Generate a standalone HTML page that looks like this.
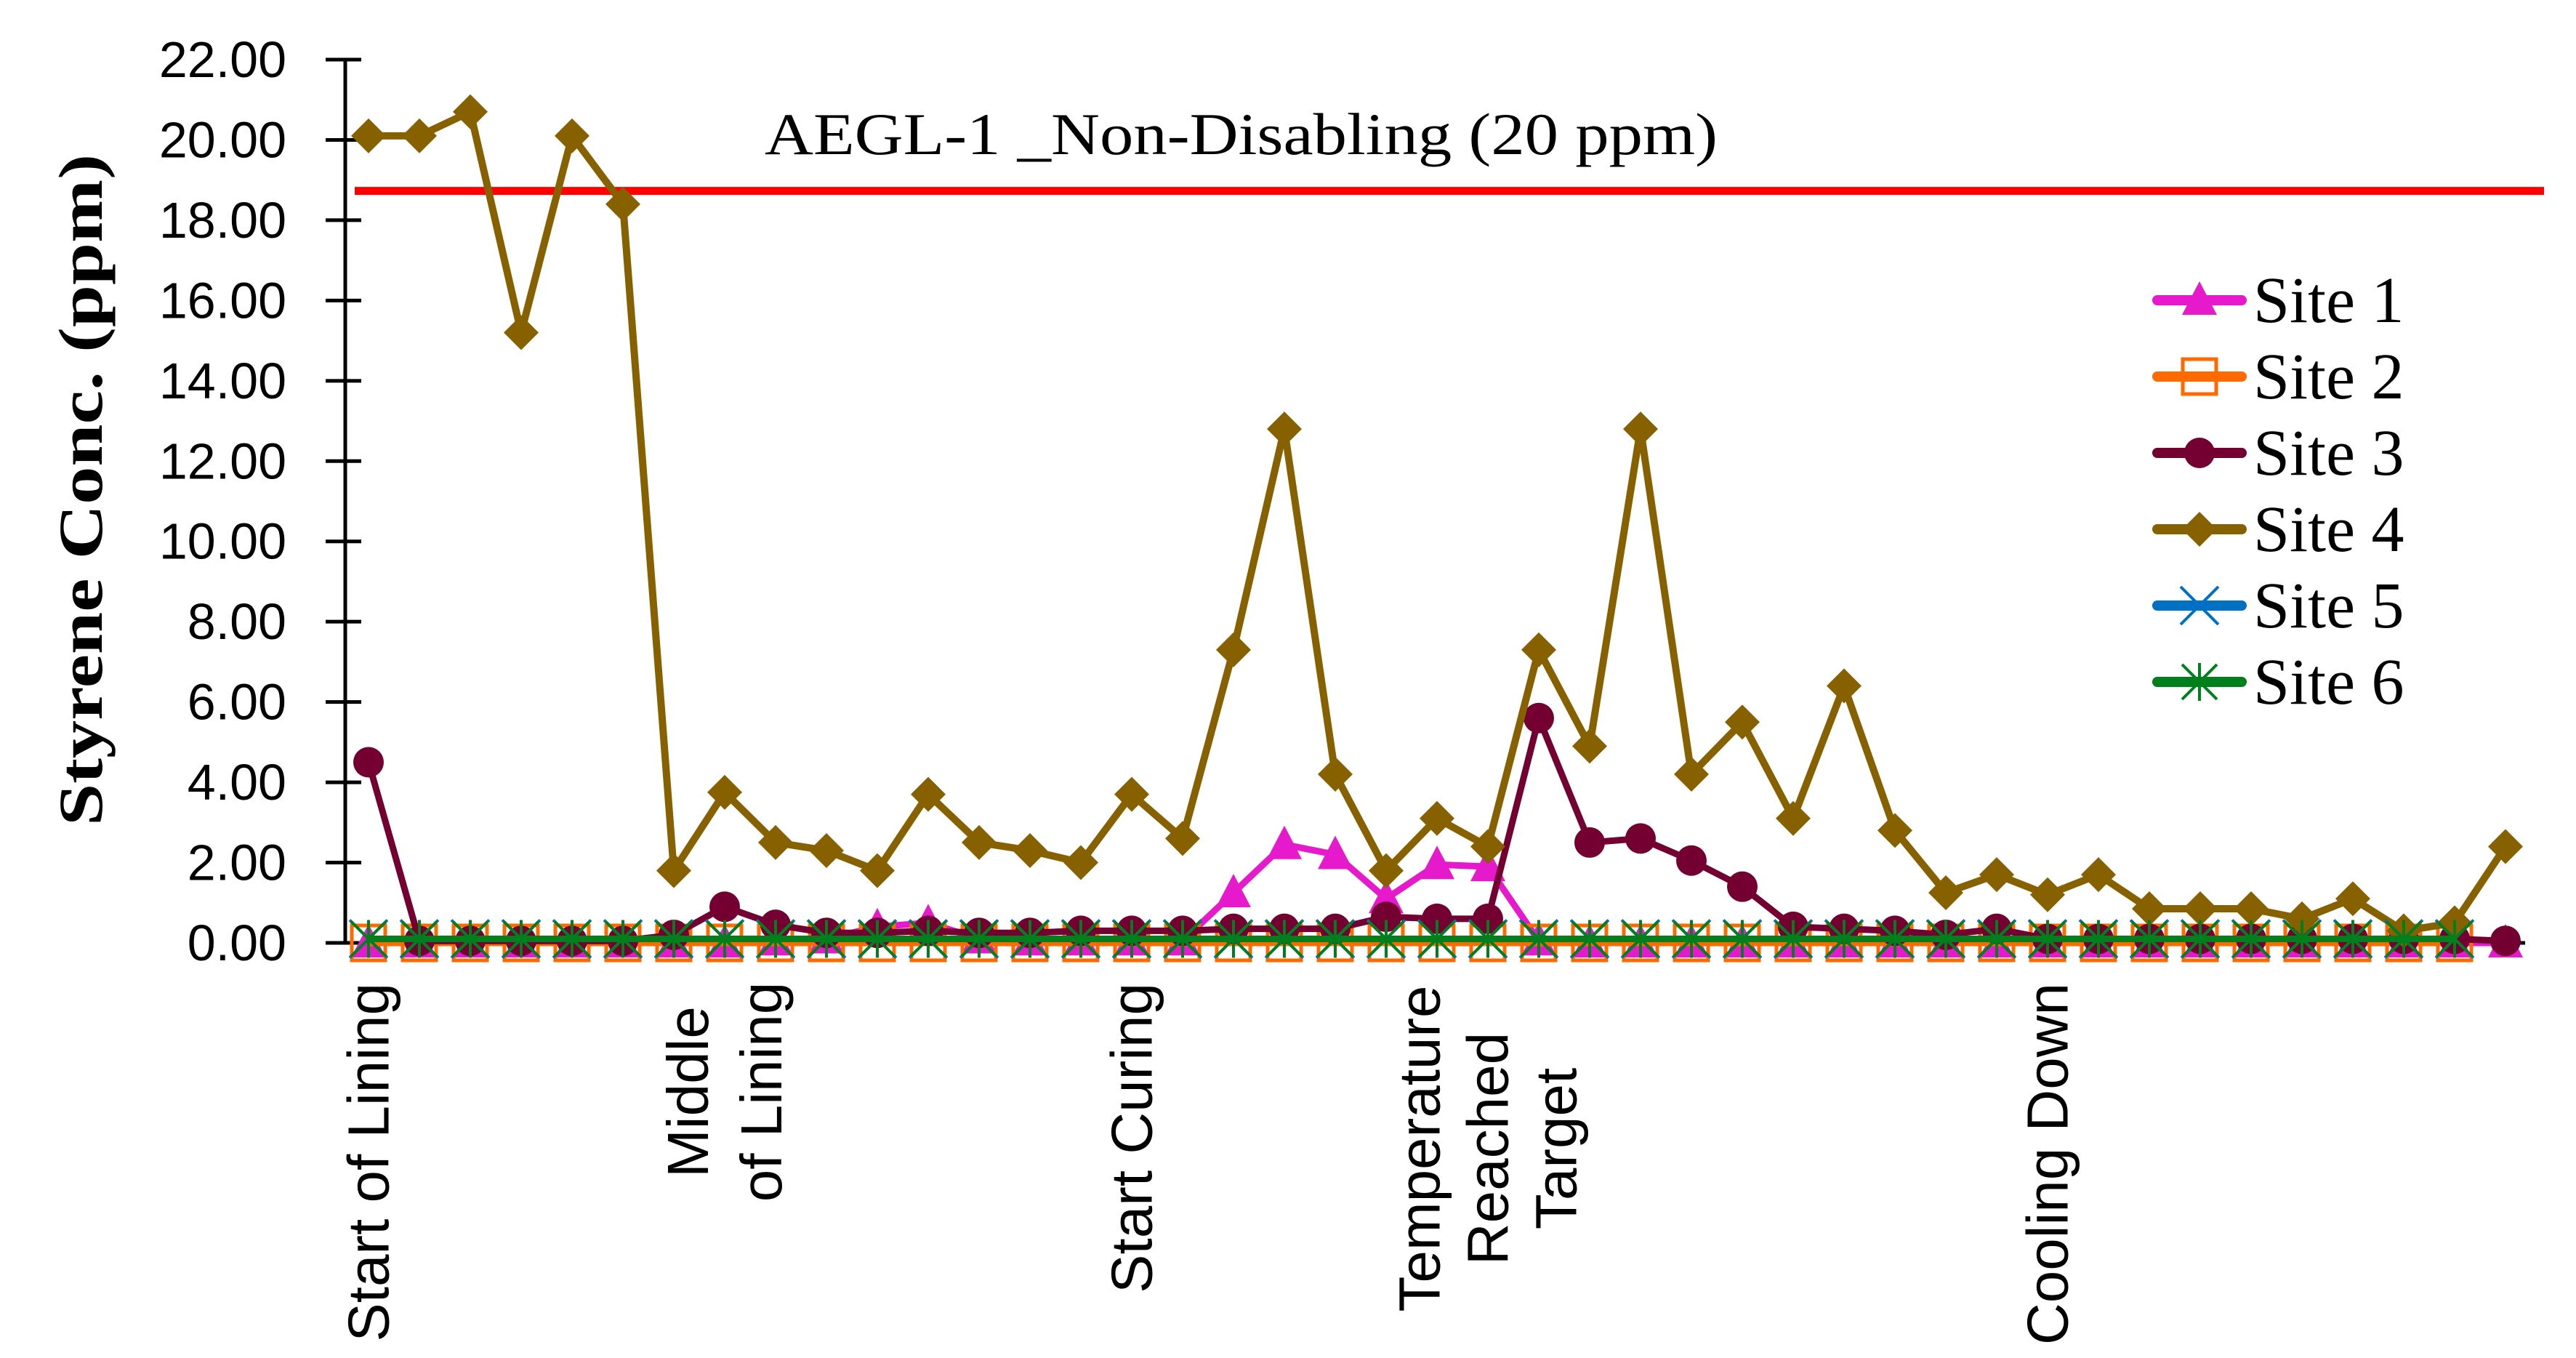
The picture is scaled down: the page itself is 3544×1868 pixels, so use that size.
<!DOCTYPE html>
<html><head><meta charset="utf-8"><style>
html,body{margin:0;padding:0;background:#fff;}
svg{display:block;}
</style></head>
<body>
<svg id="chart" width="3544" height="1868" viewBox="0 0 3544 1868" xmlns="http://www.w3.org/2000/svg">
<rect width="3544" height="1868" fill="#fff"/>
<g id="grid"></g>
<g id="series"></g>
<g id="legend"></g>
</svg>
<script>
const categories = ["Start of Lining","","","","","","","Middle|of Lining","","","","","","","","Start Curing","","","","","","","Temperature|Reached|Target","","","","","","","","","","","Cooling Down","","","","","","","","",""];
const yTicks = [0,2,4,6,8,10,12,14,16,18,20,22];
const aeglValue = [18.73];
const site1 = [0,0,0,0,0,0,0,0,0.05,0.1,0.4,0.5,0.1,0.05,0.05,0.05,0.05,1.25,2.45,2.2,1.1,1.95,1.9,0.05,0,0,0,0,0,0,0,0,0,0,0,0,0,0,0,0,0,0,0];
const site2 = [0,0,0,0,0,0,0,0,0,0,0,0,0,0,0,0,0,0,0,0,0,0,0,0,0,0,0,0,0,0,0,0,0,0,0,0,0,0,0,0,0,0];
const site3 = [4.5,0.05,0.05,0.05,0.05,0.05,0.2,0.9,0.45,0.25,0.25,0.3,0.25,0.25,0.3,0.3,0.3,0.35,0.35,0.35,0.65,0.6,0.6,5.6,2.5,2.6,2.05,1.4,0.4,0.35,0.3,0.2,0.35,0.1,0.1,0.1,0.1,0.1,0.1,0.1,0.1,0.1,0.05];
const site4 = [20.1,20.1,20.7,15.2,20.1,18.4,1.8,3.75,2.5,2.3,1.8,3.7,2.5,2.3,2.0,3.7,2.6,7.3,12.8,4.2,1.8,3.1,2.4,7.3,4.9,12.8,4.2,5.5,3.1,6.4,2.8,1.25,1.7,1.2,1.7,0.85,0.85,0.85,0.6,1.1,0.3,0.5,2.4];
const site5 = [0.1,0.1,0.1,0.1,0.1,0.1,0.1,0.1,0.1,0.1,0.1,0.1,0.1,0.1,0.1,0.1,0.1,0.1,0.1,0.1,0.1,0.1,0.1,0.1,0.1,0.1,0.1,0.1,0.1,0.1,0.1,0.1,0.1,0.1,0.1,0.1,0.1,0.1,0.1,0.1,0.1,0.1];
const site6 = [0.1,0.1,0.1,0.1,0.1,0.1,0.1,0.1,0.1,0.1,0.1,0.1,0.1,0.1,0.1,0.1,0.1,0.1,0.1,0.1,0.1,0.1,0.1,0.1,0.1,0.1,0.1,0.1,0.1,0.1,0.1,0.1,0.1,0.1,0.1,0.1,0.1,0.1,0.1,0.1,0.1,0.1];
const seriesNames = ["Site 1","Site 2","Site 3","Site 4","Site 5","Site 6"];

const NS="http://www.w3.org/2000/svg";
const X0=507, DX=70, Y0=1297, YTOP=82, YMAX=22;
const xs=i=>X0+DX*i;
const ys=v=>Y0-(v/YMAX)*(Y0-YTOP);
function mk(tag,attrs,parent){const e=document.createElementNS(NS,tag);for(const k in attrs)e.setAttribute(k,attrs[k]);parent.appendChild(e);return e;}
const G=document.getElementById('grid'), S=document.getElementById('series'), L=document.getElementById('legend');

// axis
let ax=mk('line',{x1:475,y1:YTOP,x2:475,y2:Y0,stroke:'#000','stroke-width':5},G);


let xax=mk('line',{x1:475,y1:Y0,x2:3474,y2:Y0,stroke:'#000','stroke-width':5},G);


yTicks.forEach(t=>{
  const tk=mk('line',{x1:448,y1:ys(t),x2:497,y2:ys(t),stroke:'#000','stroke-width':5},G);
  
  
  const tx=mk('text',{x:394,y:ys(t),'text-anchor':'end','dominant-baseline':'central','font-family':'Liberation Sans, sans-serif','font-size':70,fill:'#000'},G);
  tx.textContent=t.toFixed(2);
  
  
});
// y title
const yt=mk('text',{x:0,y:0,transform:'translate(140,674) rotate(-90)','text-anchor':'middle','font-family':'Liberation Serif, serif','font-weight':'bold','font-size':86,textLength:924,lengthAdjust:'spacingAndGlyphs',fill:'#000'},G);
yt.textContent='Styrene Conc. (ppm)';



// x labels
categories.forEach((c,i)=>{
  if(!c)return;
  const lines=c.split('|');
  const n=lines.length;
  const gap= n===2?101:94;
  const cx=xs(i);
  lines.forEach((ln,j)=>{
    const lx=cx+(j-(n-1)/2)*gap;
    let attrs;
    if(n===1){attrs={x:0,y:0,transform:`translate(${lx},1352) rotate(-90)`,'text-anchor':'end','dominant-baseline':'central'};}
    else{const cy=n===2?1502:1580;attrs={x:0,y:0,transform:`translate(${lx},${cy}) rotate(-90)`,'text-anchor':'middle','dominant-baseline':'central'};}
    attrs['font-family']='Liberation Sans, sans-serif';attrs['font-size']=80;attrs.fill='#000';
    const t=mk('text',attrs,G);
    t.textContent=ln;
    
    
  });
});

// AEGL line & annotation
const rl=mk('line',{x1:488,y1:ys(aeglValue[0]),x2:3500,y2:ys(aeglValue[0]),stroke:'#ff0000','stroke-width':11},G);


const at=mk('text',{x:1052,y:212,'font-family':'Liberation Serif, serif','font-size':82,textLength:1311,lengthAdjust:'spacingAndGlyphs',fill:'#000'},G);
at.textContent='AEGL-1  _Non-Disabling  (20 ppm)';



const colors=['#e619cc','#ff6a00','#740032','#876000','#0070c4','#00801c'];
const data=[site1,site2,site3,site4,site5,site6];
function marker(k,x,y,parent){
  const c=colors[k];let m;
  if(k===0){m=mk('polygon',{points:`${x},${y-26} ${x+24},${y+20} ${x-24},${y+20}`,fill:c},parent);}
  else if(k===1){m=mk('rect',{x:x-23,y:y-24,width:46,height:48,fill:'none',stroke:c,'stroke-width':5},parent);}
  else if(k===2){m=mk('circle',{cx:x,cy:y,r:21,fill:c},parent);}
  else if(k===3){m=mk('polygon',{points:`${x},${y-24} ${x+24},${y} ${x},${y+24} ${x-24},${y}`,fill:c},parent);}
  else if(k===4){m=mk('path',{d:`M${x-26},${y-26}L${x+26},${y+26}M${x-26},${y+26}L${x+26},${y-26}`,stroke:c,'stroke-width':4,fill:'none'},parent);}
  else {m=mk('path',{d:`M${x-24},${y-24}L${x+24},${y+24}M${x-24},${y+24}L${x+24},${y-24}M${x},${y-26}L${x},${y+26}`,stroke:c,'stroke-width':4,fill:'none'},parent);}
  return m;
}
data.forEach((arr,k)=>{
  const g=mk('g',{},S);
  
  
  const pts=arr.map((v,i)=>xs(i)+','+ys(v)).join(' ');
  const pl=mk('polyline',{points:pts,fill:'none',stroke:colors[k],'stroke-width':k===3?10:9,'stroke-linejoin':'round'},g);
  
  
  arr.forEach((v,i)=>{
    const m=marker(k,xs(i),ys(v),g);
    
    
  });
});

// legend
seriesNames.forEach((nm,k)=>{
  const y=413+105*k;
  const g=mk('g',{},L);
  
  
  const l=mk('line',{x1:2968,y1:y,x2:3084,y2:y,stroke:colors[k],'stroke-width':14,'stroke-linecap':'round'},g);
  
  
  const m=marker(k,3026,y,g);
  
  
  const t=mk('text',{x:3100,y:y+30,'font-family':'Liberation Serif, serif','font-size':90,fill:'#000'},g);
  t.textContent=nm;
  
  
});
</script>
</body></html>
